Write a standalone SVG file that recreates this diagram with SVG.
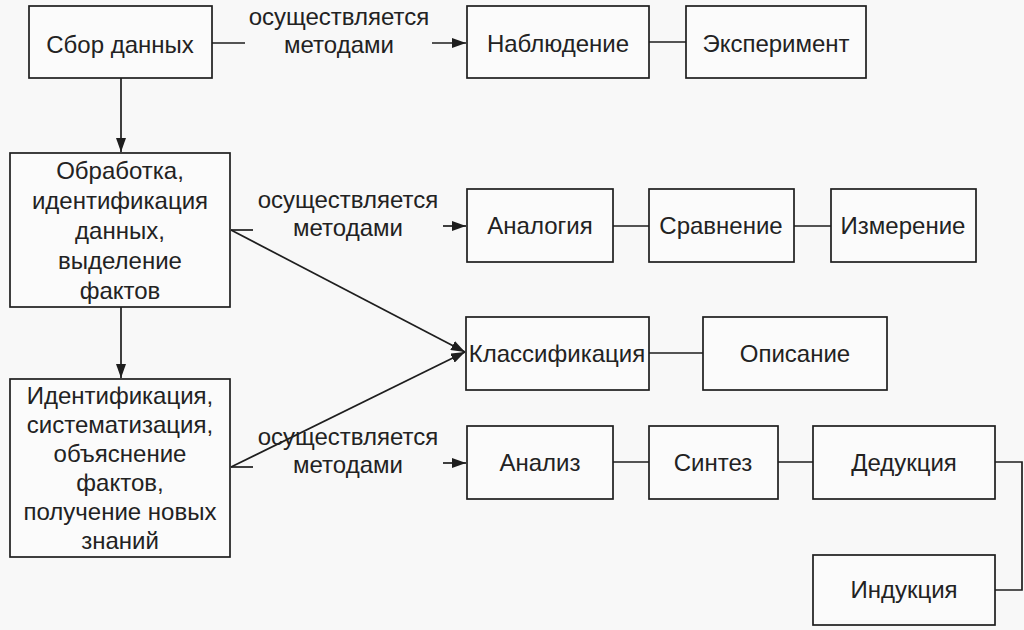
<svg xmlns="http://www.w3.org/2000/svg" width="1024" height="630" viewBox="0 0 1024 630">
<defs>
<marker id="arr" viewBox="0 0 14 10" refX="14" refY="5" markerWidth="14" markerHeight="10" markerUnits="userSpaceOnUse" orient="auto">
<path d="M0,0 L14,5 L0,10 Z" fill="#1e1e1e"/>
</marker>
<style>
.box{fill:#fbfbfb;stroke:#1e1e1e;stroke-width:1.7}
.ln{fill:none;stroke:#1e1e1e;stroke-width:1.7}
text{font-family:"Liberation Sans",Arial,sans-serif;font-size:24px;fill:#222;text-anchor:middle}
</style>
</defs>
<rect width="1024" height="630" fill="#f8f8f8"/>
<g id="connectors">
<line class="ln" x1="212" y1="43" x2="245" y2="43"/>
<line class="ln" x1="432" y1="43" x2="466" y2="43" marker-end="url(#arr)"/>
<line class="ln" x1="649" y1="42" x2="686" y2="42"/>
<line class="ln" x1="121" y1="78" x2="121" y2="152" marker-end="url(#arr)"/>
<line class="ln" x1="121" y1="307" x2="121" y2="378" marker-end="url(#arr)"/>
<line class="ln" x1="231" y1="230" x2="253" y2="230"/>
<line class="ln" x1="443" y1="226" x2="466" y2="226" marker-end="url(#arr)"/>
<line class="ln" x1="613" y1="226" x2="649" y2="226"/>
<line class="ln" x1="794" y1="226" x2="831" y2="226"/>
<line class="ln" x1="231" y1="230" x2="465" y2="352" marker-end="url(#arr)"/>
<line class="ln" x1="231" y1="467" x2="465" y2="352" marker-end="url(#arr)"/>
<line class="ln" x1="649" y1="353" x2="703" y2="353"/>
<line class="ln" x1="231" y1="467" x2="253" y2="467"/>
<line class="ln" x1="443" y1="463" x2="466" y2="463" marker-end="url(#arr)"/>
<line class="ln" x1="613" y1="462" x2="649" y2="462"/>
<line class="ln" x1="778" y1="462" x2="813" y2="462"/>
<polyline class="ln" points="995,462 1022,462 1022,590 995,590"/>
<text x="339" y="25">осуществляется</text>
<text x="339" y="53">методами</text>
<text x="348" y="208">осуществляется</text>
<text x="348" y="236">методами</text>
<text x="348" y="445">осуществляется</text>
<text x="348" y="473">методами</text>
</g>
<g id="n-sbor"><rect class="box" x="29" y="6" width="183" height="72"/><text x="120" y="53">Сбор данных</text></g>
<g id="n-nabl"><rect class="box" x="467" y="6" width="182" height="72"/><text x="558" y="52">Наблюдение</text></g>
<g id="n-eksp"><rect class="box" x="686" y="6" width="180" height="72"/><text x="776" y="52">Эксперимент</text></g>
<g id="n-obr"><rect class="box" x="10" y="153" width="220" height="154"/>
<text x="120" y="179">Обработка,</text><text x="120" y="209">идентификация</text><text x="120" y="239">данных,</text><text x="120" y="269">выделение</text><text x="120" y="299">фактов</text></g>
<g id="n-ident"><rect class="box" x="10" y="379" width="220" height="178"/>
<text x="120" y="404">Идентификация,</text><text x="120" y="433">систематизация,</text><text x="120" y="462">объяснение</text><text x="120" y="491">фактов,</text><text x="120" y="520">получение новых</text><text x="120" y="549">знаний</text></g>
<g id="n-anal"><rect class="box" x="467" y="189" width="146" height="73"/><text x="540" y="234">Аналогия</text></g>
<g id="n-srav"><rect class="box" x="649" y="189" width="145" height="73"/><text x="721" y="234">Сравнение</text></g>
<g id="n-izm"><rect class="box" x="831" y="189" width="145" height="73"/><text x="903" y="234">Измерение</text></g>
<g id="n-klass"><rect class="box" x="466" y="317" width="183" height="73"/><text x="557" y="362">Классификация</text></g>
<g id="n-opis"><rect class="box" x="703" y="317" width="184" height="73"/><text x="795" y="362">Описание</text></g>
<g id="n-analiz"><rect class="box" x="467" y="426" width="146" height="73"/><text x="540" y="471">Анализ</text></g>
<g id="n-sint"><rect class="box" x="649" y="426" width="129" height="73"/><text x="713" y="471">Синтез</text></g>
<g id="n-ded"><rect class="box" x="813" y="426" width="182" height="73"/><text x="904" y="471">Дедукция</text></g>
<g id="n-ind"><rect class="box" x="813" y="555" width="182" height="70"/><text x="904" y="598">Индукция</text></g>
</svg>
